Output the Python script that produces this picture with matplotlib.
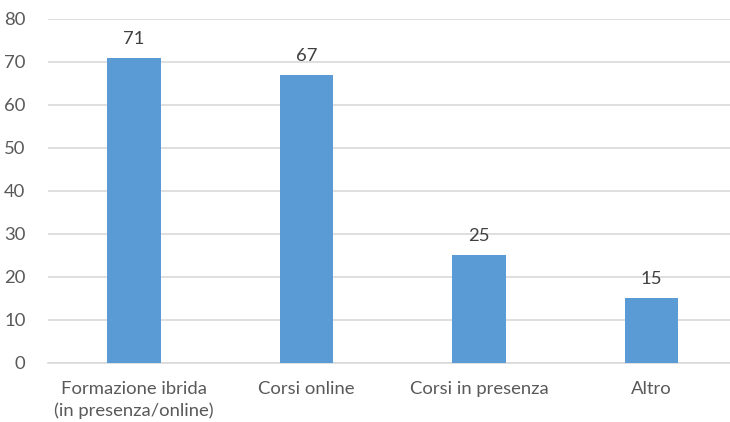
import matplotlib.pyplot as plt
import numpy as np

plt.rcParams["font.family"] = ["Lato", "DejaVu Sans"]

categories = [
    "Formazione ibrida\n(in presenza/online)",
    "Corsi online",
    "Corsi in presenza",
    "Altro",
]
values = [71, 67, 25, 15]

fig = plt.figure(figsize=(7.3, 4.22), dpi=100)
ax = fig.add_axes([0.0654, 0.14, 0.945, 0.815])

x = np.arange(len(categories))

ax.bar(x, values, width=0.31, color="#5B9BD5", zorder=3)

for xi, v in zip(x, values):
    ax.text(xi, v + 2.6, str(v), ha="center", va="bottom",
            fontsize=13.3, color="#404040")

ax.set_xlim(-0.5, 3.5)
ax.set_ylim(0, 80)
ax.set_yticks(range(0, 81, 10))
ax.set_xticks(x)
ax.set_xticklabels(categories, fontsize=13.3, color="#595959",
                   linespacing=1.4)

ax.tick_params(axis="y", length=0, labelsize=13.3, labelcolor="#595959",
               pad=16)
ax.tick_params(axis="x", length=0, pad=13)

ax.grid(axis="y", color="#D9D9D9", linewidth=1.2, zorder=0)

for side in ["top", "right", "left"]:
    ax.spines[side].set_visible(False)
ax.spines["bottom"].set_color("#D9D9D9")
ax.spines["bottom"].set_linewidth(1.2)

fig.savefig("out.png", dpi=100)
